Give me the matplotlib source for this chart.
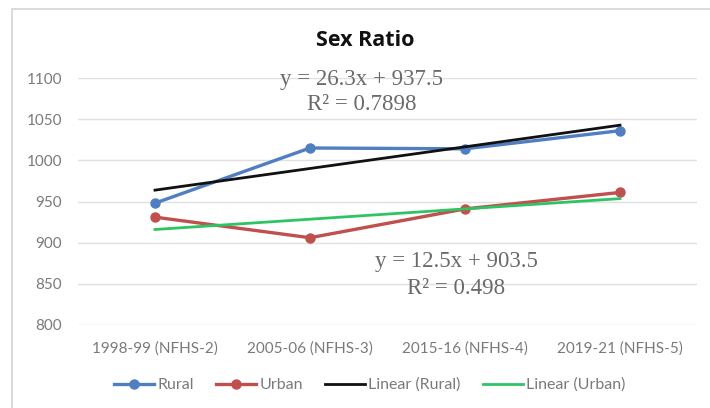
import numpy as np
import matplotlib.pyplot as plt
from matplotlib.patches import Rectangle

# Sex ratio survey data
surveys = ["1998-99 (NFHS-2)", "2005-06 (NFHS-3)", "2015-16 (NFHS-4)", "2019-21 (NFHS-5)"]
rural = [948, 1015, 1014, 1036]
urban = [931, 906, 941, 961]

# Linear trend coefficients (slope, intercept) and R^2
rural_fit = (26.3, 937.5)
rural_r2 = 0.7898
urban_fit = (12.5, 903.5)
urban_r2 = 0.498

x = np.arange(1, len(surveys) + 1)
W, H = 710, 408

fig = plt.figure(figsize=(W / 100, H / 100), dpi=100)
# chart area border
fig.patches.append(Rectangle((12 / W, -0.1), 1.2, (H - 9) / H + 0.1,
                             transform=fig.transFigure, fill=False,
                             edgecolor="#d4d4d4", linewidth=1.2))

ax = fig.add_axes([77.5 / W, 1 - 325 / H, 620 / W, 247 / H])
ax.set_xlim(0.5, 4.5)
ax.set_ylim(800, 1100)
ax.set_yticks(np.arange(800, 1101, 50))
ax.set_xticks(x)
ax.set_xticklabels(surveys)
ax.grid(axis="y", color="#e0e0e0", linewidth=1)
ax.set_axisbelow(True)
for s in ax.spines.values():
    s.set_visible(False)
ax.tick_params(length=0, labelsize=11, colors="#7a7a7a")
ax.tick_params(axis="y", pad=11)
ax.tick_params(axis="x", pad=12)
for lbl in ax.get_xticklabels() + ax.get_yticklabels():
    lbl.set_family("Lato")

ax.plot(x, rural, "-o", color="#4f7fc0", lw=2.4, ms=6.5, label="Rural", zorder=3)
ax.plot(x, urban, "-o", color="#c0504d", lw=2.4, ms=6.5, label="Urban", zorder=3)
ax.plot(x, rural_fit[0] * x + rural_fit[1], color="#111111", lw=2, label="Linear (Rural)", zorder=4)
ax.plot(x, urban_fit[0] * x + urban_fit[1], color="#2ec463", lw=2, label="Linear (Urban)", zorder=4)

eq_style = dict(family="Liberation Serif", fontsize=16.5, color="#6a6a6a", ha="center", va="center")
fig.text(361 / W, 1 - 80 / H, f"y = {rural_fit[0]}x + {rural_fit[1]}", **eq_style)
fig.text(362 / W, 1 - 105 / H, f"R² = {rural_r2}", **eq_style)
fig.text(456 / W, 1 - 261 / H, f"y = {urban_fit[0]}x + {urban_fit[1]}", **eq_style)
fig.text(456 / W, 1 - 289 / H, f"R² = {urban_r2}", **eq_style)

fig.text(365 / W, 1 - 41 / H, "Sex Ratio", family="Open Sans", fontsize=15.5, fontweight="bold",
         color="#111111", ha="center", va="center")

leg = ax.legend(loc="center", bbox_to_anchor=(370 / W, 1 - 385 / H), bbox_transform=fig.transFigure,
                ncol=4, frameon=False, prop={"family": "Lato", "size": 11.5}, labelcolor="#7a7a7a",
                handlelength=2.5, columnspacing=1.4, handletextpad=0.2)

fig.savefig("out.png", dpi=100)
